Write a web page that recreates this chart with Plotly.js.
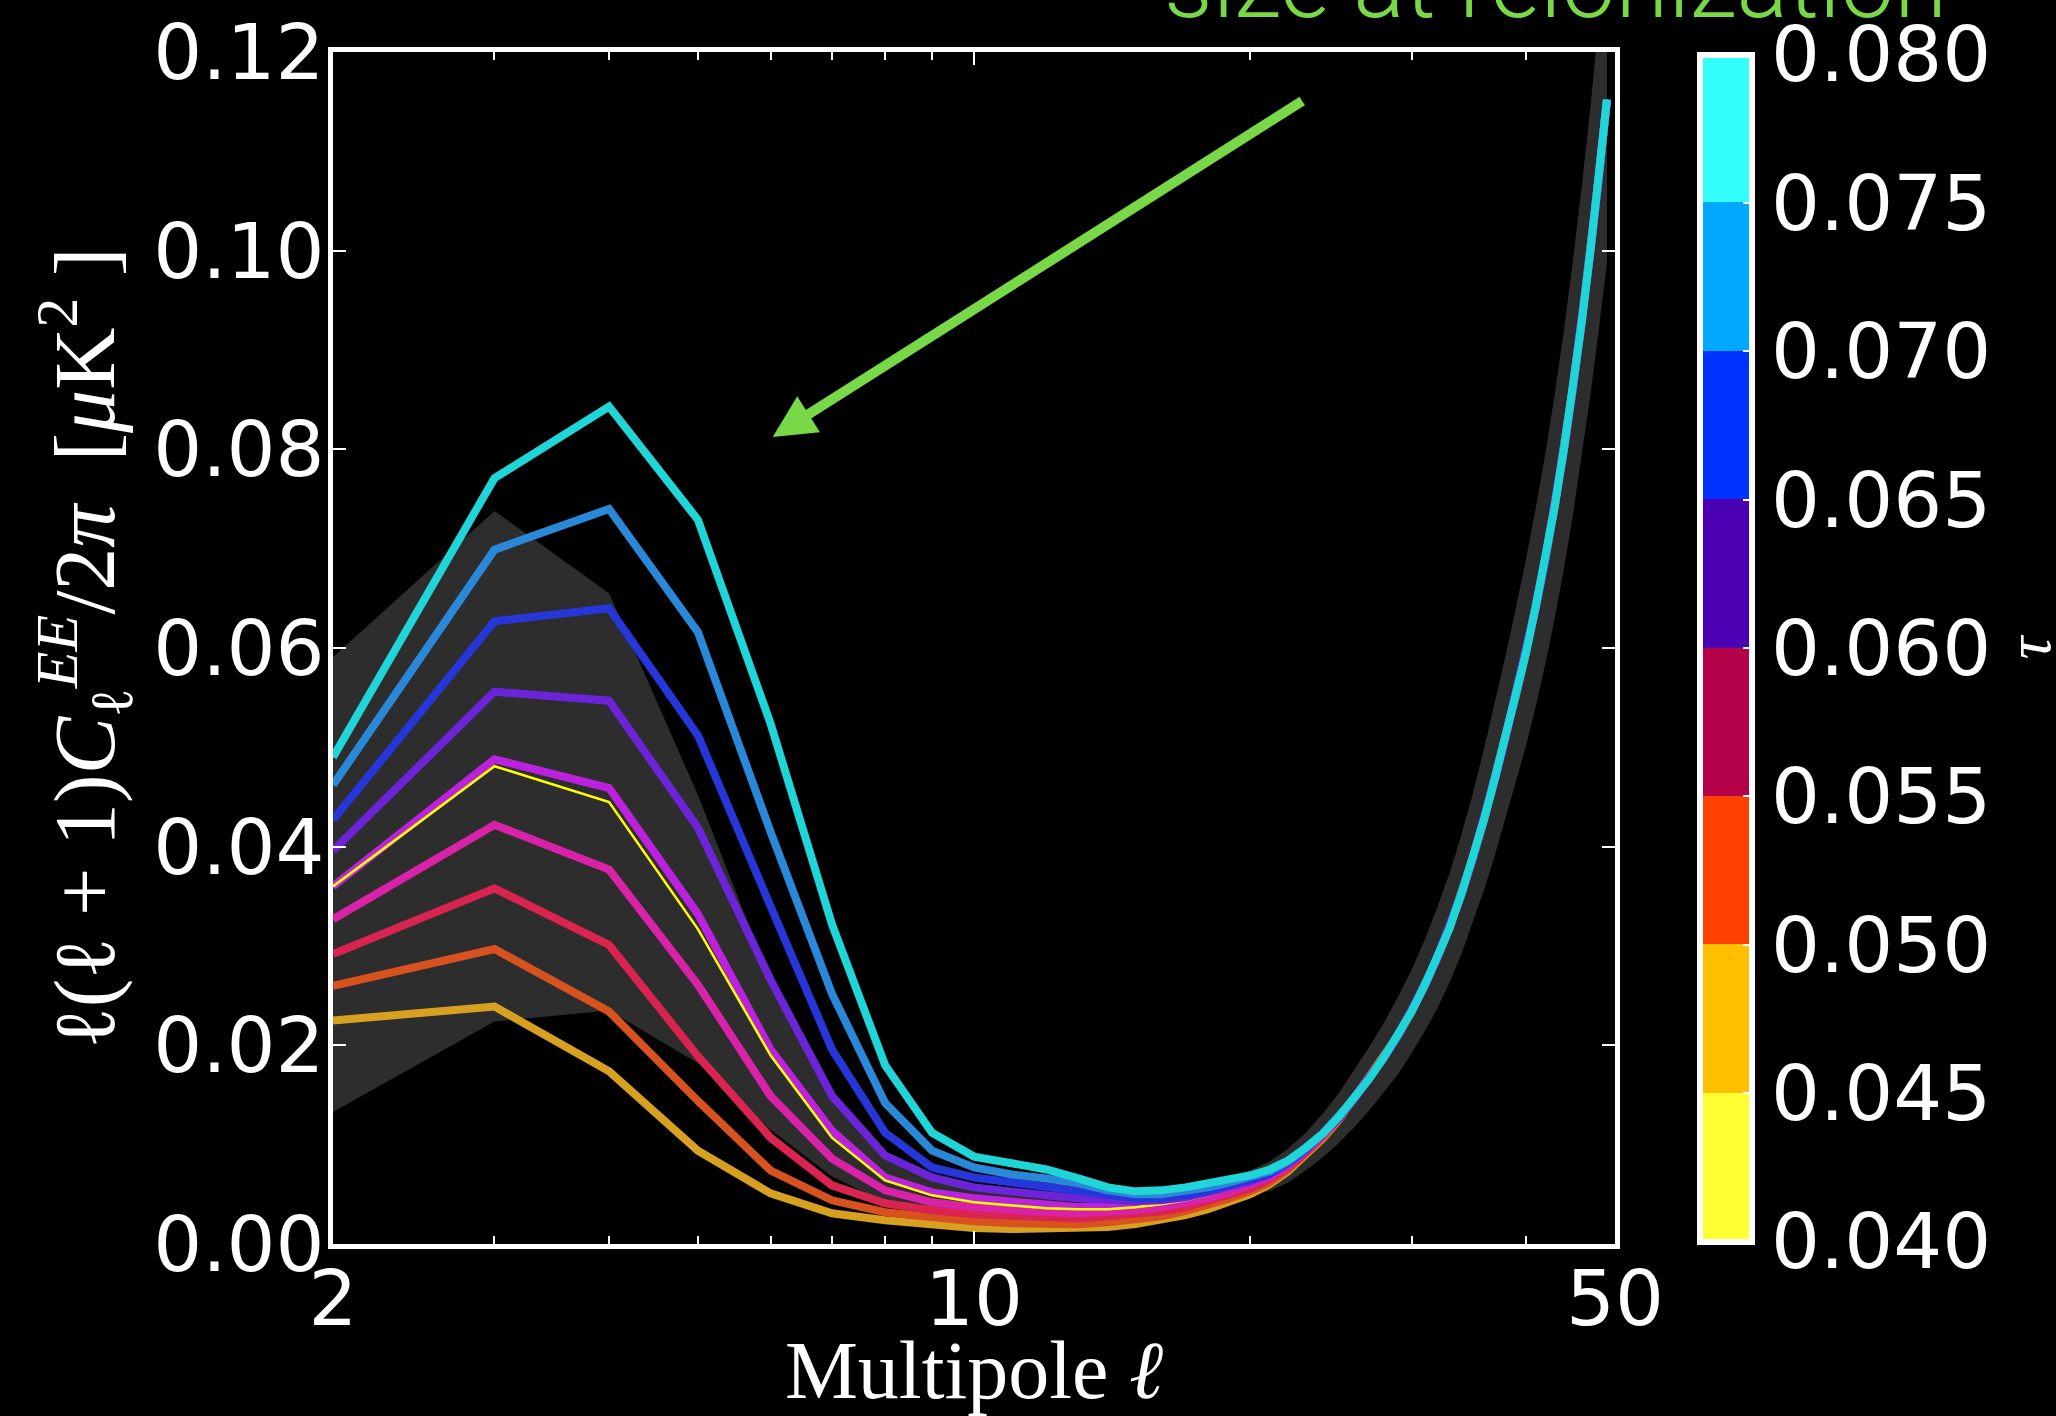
<!DOCTYPE html>
<html>
<head>
<meta charset="utf-8">
<script src="https://cdn.plot.ly/plotly-3.0.1.min.js"></script>
<style>
html,body{margin:0;padding:0;background:#000;}
#chart{width:2056px;height:1416px;}
</style>
</head>
<body>
<div id="chart"></div>
<script>
// Multipoles
const ells = [2,3,4,5,6,7,8,9,10,11,12,13,14,15,16,17,18,19,20,21,22,23,24,25,
              26,27,28,29,30,31,32,33,34,35,36,37,38,39,40,41,42,43,44,45,46,47,48,49];

// Low-ell part (ell = 2..25) of each curve
const tau040 = [0.0225,0.0239,0.0174,0.0094,0.0051,0.0031,0.0024,0.0020,0.0016,0.0015,0.0015,0.0016,0.0017,0.0020,0.0024,0.0029,0.0035,0.0042,0.0050,0.0060,0.0073,0.0090,0.0106,0.0125];
const tau045 = [0.0260,0.0297,0.0234,0.0144,0.0074,0.0044,0.0032,0.0027,0.0023,0.0021,0.0020,0.0020,0.0022,0.0025,0.0028,0.0033,0.0039,0.0046,0.0053,0.0062,0.0075,0.0091,0.0107,0.0126];
const tau050 = [0.0292,0.0358,0.0301,0.0189,0.0107,0.0059,0.0041,0.0034,0.0030,0.0028,0.0026,0.0026,0.0028,0.0030,0.0033,0.0037,0.0043,0.0049,0.0056,0.0065,0.0077,0.0092,0.0108,0.0126];
const tau055 = [0.0327,0.0422,0.0377,0.0261,0.0149,0.0086,0.0054,0.0042,0.0037,0.0034,0.0032,0.0031,0.0032,0.0034,0.0037,0.0041,0.0046,0.0052,0.0059,0.0067,0.0078,0.0093,0.0109,0.0127];
const tau060 = [0.0360,0.0488,0.0459,0.0332,0.0196,0.0114,0.0067,0.0052,0.0046,0.0042,0.0039,0.0037,0.0038,0.0040,0.0042,0.0046,0.0051,0.0056,0.0062,0.0069,0.0080,0.0094,0.0110,0.0127];
const tau065 = [0.0396,0.0556,0.0547,0.0419,0.0266,0.0149,0.0089,0.0067,0.0057,0.0052,0.0049,0.0046,0.0044,0.0043,0.0044,0.0047,0.0052,0.0057,0.0063,0.0070,0.0081,0.0095,0.0110,0.0127];
const tau070 = [0.0427,0.0627,0.0640,0.0512,0.0340,0.0196,0.0112,0.0077,0.0067,0.0062,0.0057,0.0053,0.0049,0.0046,0.0046,0.0049,0.0054,0.0059,0.0065,0.0071,0.0082,0.0095,0.0110,0.0127];
const tau075 = [0.0462,0.0699,0.0740,0.0616,0.0415,0.0252,0.0142,0.0094,0.0077,0.0070,0.0066,0.0061,0.0054,0.0050,0.0050,0.0053,0.0057,0.0062,0.0067,0.0073,0.0083,0.0096,0.0111,0.0128];
const tau080 = [0.0490,0.0771,0.0843,0.0729,0.0524,0.0322,0.0180,0.0112,0.0088,0.0081,0.0075,0.0066,0.0057,0.0053,0.0054,0.0057,0.0061,0.0065,0.0069,0.0075,0.0084,0.0097,0.0111,0.0128];
const fiducial = [0.0360,0.0481,0.0445,0.0317,0.0190,0.0107,0.0064,0.0049,0.0042,0.0039,0.0036,0.0035,0.0035,0.0037,0.0040,0.0044,0.0049,0.0055,0.0061,0.0068,0.0079,0.0093,0.0109,0.0127];

// High-ell part (ell = 26..49), where all curves coincide
const commonHigh = [0.0147,0.0167,0.0188,0.0210,0.0234,0.0260,0.0288,0.0318,0.0352,0.0389,0.0428,0.0469,0.0511,0.0553,0.0596,0.0642,0.0691,0.0744,0.0801,0.0863,0.0929,0.0999,0.1074,0.1152];

// Grey uncertainty band (ell = 2..49)
const bandUpper = [0.0591,0.0738,0.0655,0.0452,0.0265,0.0146,0.0086,0.0065,0.0055,0.0050,0.0046,0.0045,0.0044,0.0046,0.0050,0.0055,0.0060,0.0067,0.0074,0.0083,0.0096,0.0112,0.0131,0.0152,
                   0.0176,0.0199,0.0223,0.0249,0.0276,0.0306,0.0339,0.0373,0.0412,0.0454,0.0499,0.0546,0.0593,0.0641,0.0690,0.0742,0.0797,0.0857,0.0921,0.0991,0.1065,0.1144,0.1228,0.1316];
const bandLower = [0.0133,0.0224,0.0235,0.0182,0.0115,0.0068,0.0042,0.0033,0.0029,0.0028,0.0026,0.0025,0.0026,0.0028,0.0030,0.0033,0.0038,0.0043,0.0048,0.0053,0.0062,0.0074,0.0087,0.0102,
                   0.0118,0.0135,0.0153,0.0171,0.0192,0.0214,0.0237,0.0263,0.0292,0.0324,0.0357,0.0392,0.0429,0.0465,0.0502,0.0542,0.0585,0.0631,0.0681,0.0735,0.0793,0.0854,0.0920,0.0988];

// Colour bar
const tauTicks = [0.040,0.045,0.050,0.055,0.060,0.065,0.070,0.075,0.080];
const tauTickText = ['0.040','0.045','0.050','0.055','0.060','0.065','0.070','0.075','0.080'];
const barColors = ['#ffff33','#ffbf00','#ff4000','#b5004a','#4b00b4','#0033ff','#00a8ff','#33ffff'];

// Axis ticks
const xTickVals = [2,10,50];
const xTickText = ['2','10','50'];
const xMinorVals = [3,4,5,6,7,8,9,20,30,40];
const yTickVals = [0,0.02,0.04,0.06,0.08,0.10,0.12];
const yTickText = ['0.00','0.02','0.04','0.06','0.08','0.10','0.12'];

// ----- styling / construction -----
const lineSeries = [
  {y: tau040, color: '#d8a020', width: 8},
  {y: tau045, color: '#d8521f', width: 8},
  {y: tau050, color: '#d8244f', width: 8},
  {y: tau055, color: '#d822a8', width: 8},
  {y: tau060, color: '#bb22dd', width: 8},
  {y: fiducial, color: '#ffff00', width: 2.5},
  {y: tau065, color: '#6c24d8', width: 8},
  {y: tau070, color: '#2636d8', width: 8},
  {y: tau075, color: '#2a88d8', width: 8},
  {y: tau080, color: '#20d5d8', width: 8}
];

const traces = [];
traces.push({x: ells, y: bandLower, mode: 'lines', line: {width: 0, color: 'rgba(0,0,0,0)'},
             showlegend: false, hoverinfo: 'skip'});
traces.push({x: ells, y: bandUpper, mode: 'lines', line: {width: 0, color: 'rgba(0,0,0,0)'},
             fill: 'tonexty', fillcolor: '#2d2d2d', showlegend: false, hoverinfo: 'skip'});
lineSeries.forEach(s => {
  traces.push({x: ells, y: s.y.concat(commonHigh), mode: 'lines',
               line: {color: s.color, width: s.width}, showlegend: false});
});

const cscale = [];
barColors.forEach((c, i) => {
  cscale.push([i / barColors.length, c]);
  cscale.push([(i + 1) / barColors.length, c]);
});

traces.push({
  x: [3], y: [-1], mode: 'markers', showlegend: false, hoverinfo: 'skip',
  marker: {
    size: 1, color: [0.06], cmin: tauTicks[0], cmax: tauTicks[tauTicks.length - 1],
    colorscale: cscale, showscale: true,
    colorbar: {
      thickness: 52, thicknessmode: 'pixels',
      len: 0.996, lenmode: 'fraction',
      x: 1.0663, xanchor: 'left', xpad: 0,
      y: 0.5, yanchor: 'middle', ypad: 0,
      outlinecolor: 'white', outlinewidth: 6,
      tickmode: 'array', tickvals: tauTicks, ticktext: tauTickText,
      ticks: 'inside', ticklen: 12, tickwidth: 2, tickcolor: 'white',
      tickfont: {family: 'DejaVu Sans', size: 77, color: 'white'},
      title: {text: '<i>τ</i>', side: 'right', font: {family: 'Liberation Serif', size: 64, color: 'white'}}
    }
  }
});

const tickFont = {family: 'DejaVu Sans', size: 77, color: 'white'};

const layout = {
  width: 2056, height: 1416,
  paper_bgcolor: '#000000', plot_bgcolor: '#000000',
  margin: {l: 333, r: 441, t: 52, b: 172, autoexpand: false},
  showlegend: false,
  xaxis: {
    type: 'log', range: [Math.log10(2), Math.log10(50)],
    tickmode: 'array', tickvals: xTickVals, ticktext: xTickText,
    ticks: 'inside', ticklen: 13, tickwidth: 2, tickcolor: 'white',
    minor: {tickmode: 'array', tickvals: xMinorVals, ticks: 'inside', ticklen: 8, tickwidth: 2, tickcolor: 'white', showgrid: false},
    showline: true, linecolor: 'white', linewidth: 5, mirror: 'ticks',
    showgrid: false, zeroline: false,
    tickfont: tickFont, ticklabelstandoff: -16,
    title: {text: 'Multipole <i>ℓ</i>', font: {family: 'Liberation Serif', size: 82, color: 'white'}, standoff: 12}
  },
  yaxis: {
    range: [0, 0.12],
    tickmode: 'array', tickvals: yTickVals, ticktext: yTickText,
    ticks: 'inside', ticklen: 13, tickwidth: 2, tickcolor: 'white',
    showline: true, linecolor: 'white', linewidth: 5, mirror: 'ticks',
    showgrid: false, zeroline: false,
    tickfont: tickFont, ticklabelstandoff: -12,
    title: {text: 'ℓ(ℓ + 1)<i>C</i><sub>ℓ</sub><sup><i>EE</i></sup>/2<i>π</i>  [<i>μ</i>K<sup>2</sup> ]',
            font: {family: 'Liberation Serif', size: 86, color: 'white'}, standoff: 12}
  },
  annotations: [
    {
      xref: 'paper', yref: 'paper', x: 0.6467, y: 1.0083, xanchor: 'left', yanchor: 'bottom',
      text: 'size at reionization', showarrow: false,
      font: {family: 'Roboto', size: 96, color: '#78d848', weight: 300}
    },
    {
      xref: 'paper', yref: 'paper', x: 0.343, y: 0.677,
      text: '', showarrow: true, ax: 531, ay: -337, axref: 'pixel', ayref: 'pixel',
      arrowhead: 2, arrowsize: 0.85, arrowwidth: 10, arrowcolor: '#78d848', standoff: 0
    }
  ]
};

Plotly.newPlot('chart', traces, layout, {displayModeBar: false, staticPlot: true});
</script>
</body>
</html>
